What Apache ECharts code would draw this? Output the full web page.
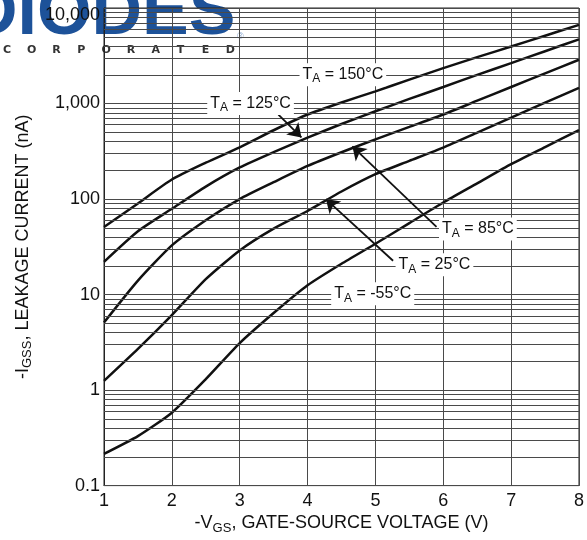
<!DOCTYPE html>
<html>
<head>
<meta charset="utf-8">
<script src="https://cdn.jsdelivr.net/npm/echarts@6/dist/echarts.min.js"></script>
<style>
html,body{margin:0;padding:0;background:#fff;}
#c{width:587px;height:540px;}
</style>
</head>
<body>
<div id="c"></div>
<script>
// ---- data ----
const voltage = [1, 1.5, 2, 2.5, 3, 3.5, 4, 4.5, 5, 5.5, 6, 6.5, 7, 7.5, 8];
const t150 = [51, 90, 160, 240, 348, 525, 767, 1025, 1340, 1780, 2350, 3060, 3950, 5130, 6650];
const t125 = [22, 46, 79, 135, 214, 310, 440, 610, 830, 1117, 1490, 1995, 2650, 3530, 4700];
const t85  = [5.1, 14, 32.7, 60, 100, 150, 222, 309, 422, 569, 767, 1070, 1490, 2070, 2870];
const t25  = [1.25, 2.7, 6.1, 14.5, 29, 49, 75, 120, 182, 251, 346, 495, 710, 1020, 1460];
const tm55 = [0.215, 0.33, 0.58, 1.3, 3.1, 6.4, 12.5, 21, 34, 56, 92, 146, 232, 350, 527];

const yTickValues = [0.1, 1, 10, 100, 1000, 10000];
const yTickLabels = ['0.1', '1', '10', '100', '1,000', '10,000'];
const xTickLabels = ['1', '2', '3', '4', '5', '6', '7', '8'];

// annotation labels (data coordinates)
const labelTemps = ['150°C', '125°C', '85°C', '25°C', '-55°C'];
const labelV = [4.52, 3.16, 6.51, 5.87, 4.96];
const labelI = [2005, 1000, 48.7, 20.5, 10.2];
// arrows (data coordinates)
const arrowFromV = [3.57, 5.90, 5.26];
const arrowFromI = [767, 51, 22.6];
const arrowToV = [3.91, 4.66, 4.27];
const arrowToI = [442, 356, 100];

// ---- chart ----
const seriesData = [t150, t125, t85, t25, tm55];
const gridValues = [];
for (let e = -1; e < 4; e++) {
  for (let m = 1; m <= 9; m++) gridValues.push(+(m * Math.pow(10, e)).toPrecision(3));
}
gridValues.push(10000);

const FONT = '"Liberation Sans", Arial, sans-serif';
const richLbl = {
  t: {fontSize: 16, fontFamily: FONT, color: '#111'},
  s: {fontSize: 12, fontFamily: FONT, color: '#111', padding: [9, 0, 0, 0]}
};

const series = [];
// gridline carrier series
series.push({
  type: 'line', z: 1, data: [[1, 1]], showSymbol: false, silent: true,
  lineStyle: {opacity: 0},
  markLine: {
    silent: true, symbol: ['none', 'none'], animation: false,
    label: {show: false},
    lineStyle: {type: 'solid', color: '#4a4a4a', width: 1},
    data: gridValues.map(v => ({yAxis: v}))
  }
});
seriesData.forEach((arr, i) => {
  series.push({
    type: 'line', z: 3, data: voltage.map((v, j) => [v, arr[j]]),
    showSymbol: false, smooth: 0.2, silent: true,
    lineStyle: {color: '#111', width: 2.5}
  });
});
// annotations
series.push({
  type: 'line', z: 5, data: [], silent: true,
  markLine: {
    silent: true, animation: false,
    symbol: ['none', 'arrow'], symbolSize: 13,
    label: {show: false},
    itemStyle: {color: '#111'},
    lineStyle: {type: 'solid', color: '#111', width: 1.8},
    data: arrowFromV.map((v, i) => [{coord: [v, arrowFromI[i]]}, {coord: [arrowToV[i], arrowToI[i]]}])
  },
  markPoint: {
    silent: true, animation: false,
    symbol: 'rect', symbolSize: 1, itemStyle: {color: 'rgba(0,0,0,0)'},
    label: {
      show: true, position: 'inside', backgroundColor: '#fff', padding: [1, 3, 1, 3],
      formatter: p => '{t|T}{s|A}{t| = ' + p.name + '}', rich: richLbl
    },
    data: labelTemps.map((t, i) => ({name: t, coord: [labelV[i], labelI[i]]}))
  }
});

const chart = echarts.init(document.getElementById('c'), null, {renderer: 'canvas'});
const corp = 'CORPORATED'.split('');
chart.setOption({
  animation: false,
  backgroundColor: '#fff',
  grid: {left: 104, right: 3, top: 8, bottom: 52, show: true, borderColor: '#222', borderWidth: 1, backgroundColor: 'rgba(0,0,0,0)'},
  graphic: [
    {type: 'text', x: -33, y: 15, z: -10,
     style: {text: 'DIODES', font: 'bold 70px ' + FONT, fill: '#1d5299', verticalAlign: 'middle'}},
    {type: 'text', x: 237, y: 37, z: -10,
     style: {text: '®', font: '9px ' + FONT, fill: '#7f9fcc', verticalAlign: 'middle'}}
  ].concat(corp.map((c, i) => ({
    type: 'text', x: 7 + i * 24.8, y: 50, z: -10,
    style: {text: c, font: 'bold 11px "DejaVu Sans", sans-serif', fill: '#333', align: 'center', verticalAlign: 'middle'}
  }))),
  xAxis: {
    type: 'value', min: 1, max: 8, interval: 1,
    name: '-V{s|GS}, GATE-SOURCE VOLTAGE (V)', nameLocation: 'middle', nameGap: 24,
    nameTextStyle: {fontSize: 18, fontFamily: FONT, color: '#111',
      rich: {s: {fontSize: 13, fontFamily: FONT, color: '#111', padding: [10, 0, 0, 0]}}},
    axisLine: {show: true, lineStyle: {color: '#222', width: 1}},
    axisTick: {show: false},
    axisLabel: {fontSize: 18, fontFamily: FONT, color: '#111', margin: 6,
      formatter: v => xTickLabels[Math.round(v) - 1]},
    splitLine: {show: true, lineStyle: {color: '#4a4a4a', width: 1}}
  },
  yAxis: {
    type: 'log', logBase: 10, min: 0.1, max: 10000,
    name: '-I{s|GSS}, LEAKAGE CURRENT (nA)', nameLocation: 'middle', nameGap: 66, nameRotate: 90,
    nameTextStyle: {fontSize: 18, fontFamily: FONT, color: '#111',
      rich: {s: {fontSize: 13, fontFamily: FONT, color: '#111', padding: [10, 0, 0, 0]}}},
    axisLine: {show: true, lineStyle: {color: '#222', width: 1}},
    axisTick: {show: false},
    splitLine: {show: false},
    axisLabel: {fontSize: 18, fontFamily: FONT, color: '#111', margin: 4,
      formatter: v => {
        const idx = yTickValues.findIndex(t => Math.abs(Math.log10(t) - Math.log10(v)) < 1e-6);
        const s = idx >= 0 ? yTickLabels[idx] : '';
        return idx === 5 ? '{top|' + s + '}' : s;
      },
      rich: {top: {fontSize: 18, fontFamily: FONT, color: '#111', padding: [14, 0, 0, 0]}}}
  },
  series: series
});
</script>
</body>
</html>
